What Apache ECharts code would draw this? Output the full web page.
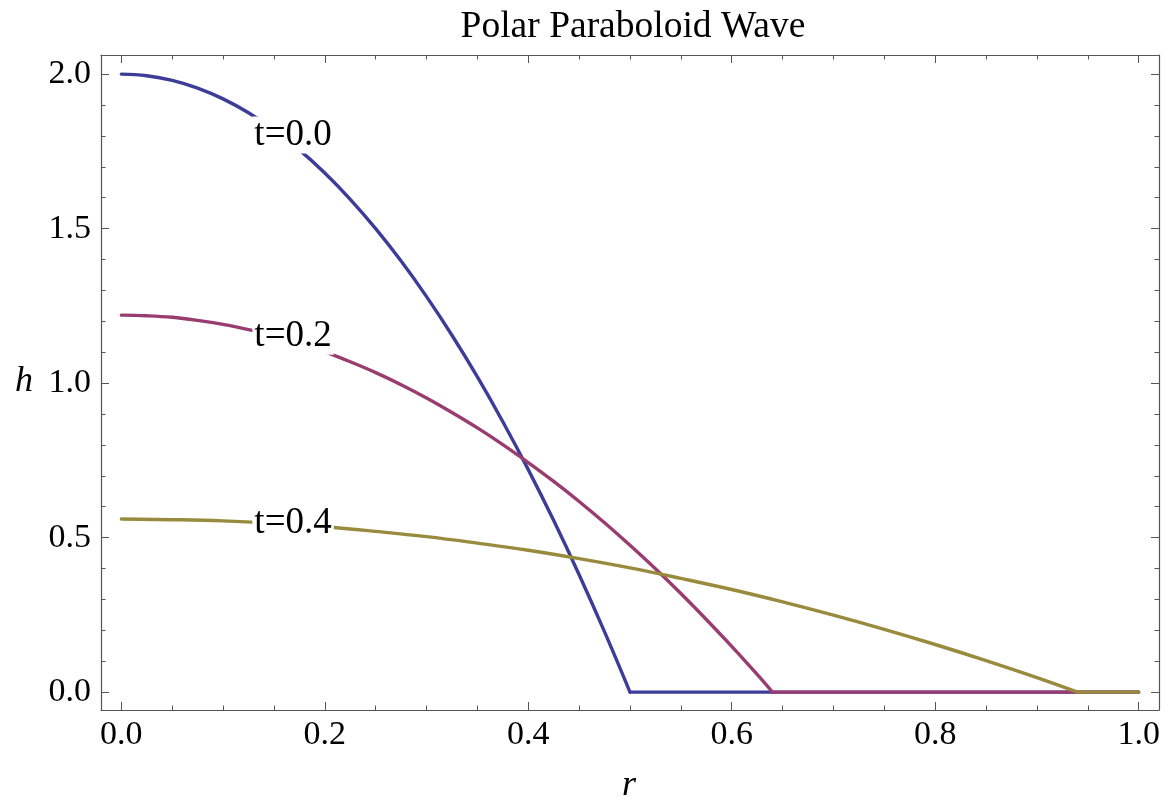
<!DOCTYPE html>
<html>
<head>
<meta charset="utf-8">
<title>Polar Paraboloid Wave</title>
<script src="https://cdn.jsdelivr.net/npm/echarts@6/dist/echarts.min.js"></script>
<style>
  html, body { margin: 0; padding: 0; background: #fff; }
  #chart { width: 1166px; height: 798px; }
</style>
</head>
<body>
<div id="chart"></div>
<script>
// Radial profile h(r) of the paraboloid wave at three times.
// Each profile is a smooth cap that ends at the front, followed by a flat run at h = 0.
const rT0 = [0, 0.025, 0.05, 0.075, 0.1, 0.125, 0.15, 0.175, 0.2, 0.225, 0.25, 0.275, 0.3, 0.325, 0.35, 0.375, 0.4, 0.425, 0.45, 0.475, 0.5];
const hT0 = [2.0, 1.995, 1.98, 1.955, 1.92, 1.875, 1.82, 1.755, 1.68, 1.595, 1.5, 1.395, 1.28, 1.155, 1.02, 0.875, 0.72, 0.555, 0.38, 0.195, 0];
const rFlatT0 = [0.5, 1.0];
const hFlatT0 = [0, 0];

const rT2 = [0, 0.025, 0.05, 0.075, 0.1, 0.125, 0.15, 0.175, 0.2, 0.225, 0.25, 0.275, 0.3, 0.325, 0.35, 0.375, 0.4, 0.425, 0.45, 0.475, 0.5, 0.525, 0.55, 0.575, 0.6, 0.625, 0.64];
const hT2 = [1.22, 1.218, 1.213, 1.203, 1.19, 1.173, 1.153, 1.129, 1.101, 1.069, 1.034, 0.995, 0.952, 0.905, 0.855, 0.801, 0.743, 0.682, 0.617, 0.548, 0.475, 0.399, 0.319, 0.235, 0.148, 0.057, 0];
const rFlatT2 = [0.64, 1.0];
const hFlatT2 = [0, 0];

const rT4 = [0, 0.05, 0.1, 0.15, 0.2, 0.25, 0.3, 0.35, 0.4, 0.45, 0.5, 0.55, 0.6, 0.65, 0.7, 0.75, 0.8, 0.85, 0.9, 0.94];
const hT4 = [0.56, 0.558, 0.554, 0.546, 0.535, 0.52, 0.503, 0.482, 0.459, 0.432, 0.402, 0.368, 0.332, 0.292, 0.249, 0.203, 0.154, 0.102, 0.047, 0];
const rFlatT4 = [0.94, 1.0];
const hFlatT4 = [0, 0];

// Curve labels and where they sit on the curves
const curveLabels = ['t=0.0', 't=0.2', 't=0.4'];
const labelR = [0.1688, 0.1688, 0.1688];
const labelH = [1.803, 1.152, 0.547];

// Frame ticks
const xMajorTicks = [0, 0.2, 0.4, 0.6, 0.8, 1.0];
const xMinorTicks = [0, 0.05, 0.1, 0.15, 0.2, 0.25, 0.3, 0.35, 0.4, 0.45, 0.5, 0.55, 0.6, 0.65, 0.7, 0.75, 0.8, 0.85, 0.9, 0.95, 1.0];
const yMajorTicks = [0, 0.5, 1.0, 1.5, 2.0];
const yMinorTicks = [0, 0.1, 0.2, 0.3, 0.4, 0.5, 0.6, 0.7, 0.8, 0.9, 1.0, 1.1, 1.2, 1.3, 1.4, 1.5, 1.6, 1.7, 1.8, 1.9, 2.0];

const colors = ['#3d3d99', '#993d71', '#998b3d'];
const FONT = '"Liberation Serif", "DejaVu Serif", serif';
const FRAME = '#555555';

const pairs = (xs, ys) => xs.map((x, i) => [x, ys[i]]);

const X_MIN = -0.02, X_MAX = 1.02;
const Y_MIN = -0.058, Y_MAX = 2.062;

function frameAxis(kind, position, major, showLine, showLabels) {
  const base = {
    type: 'value',
    position: position,
    min: kind === 'x' ? X_MIN : Y_MIN,
    max: kind === 'x' ? X_MAX : Y_MAX,
    splitLine: { show: false },
    axisLine: { show: showLine, onZero: false, lineStyle: { color: FRAME, width: 1.2 } },
    axisTick: {
      show: true,
      inside: true,
      length: major ? 8 : 4.5,
      customValues: major ? (kind === 'x' ? xMajorTicks : yMajorTicks) : (kind === 'x' ? xMinorTicks : yMinorTicks),
      lineStyle: { color: FRAME, width: 1 }
    },
    axisLabel: { show: false },
    z: 1
  };
  if (showLabels) {
    base.axisLabel = {
      show: true,
      customValues: kind === 'x' ? xMajorTicks : yMajorTicks,
      formatter: v => Number(v).toFixed(1),
      fontFamily: FONT,
      fontSize: 34,
      color: '#000',
      margin: kind === 'x' ? 8 : 10
    };
  }
  return base;
}

const chart = echarts.init(document.getElementById('chart'), null, { renderer: 'canvas' });

const profiles = [
  [rT0, hT0, rFlatT0, hFlatT0],
  [rT2, hT2, rFlatT2, hFlatT2],
  [rT4, hT4, rFlatT4, hFlatT4]
];

const lineSeries = [];
profiles.forEach((p, i) => {
  const style = { color: colors[i], width: 3.4, cap: 'round', join: 'round' };
  lineSeries.push({
    type: 'line',
    data: pairs(p[0], p[1]),
    showSymbol: false,
    symbol: 'none',
    smooth: 0.4,
    lineStyle: style,
    z: 2 + i,
    silent: true
  });
  lineSeries.push({
    type: 'line',
    data: pairs(p[2], p[3]),
    showSymbol: false,
    symbol: 'none',
    lineStyle: style,
    z: 2 + i,
    silent: true
  });
});

const labelSeries = {
  type: 'scatter',
  data: curveLabels.map((t, i) => ({ value: [labelR[i], labelH[i]], name: t })),
  symbolSize: 1,
  itemStyle: { color: '#fff', opacity: 1 },
  label: {
    show: true,
    position: 'inside',
    formatter: p => p.name,
    fontFamily: FONT,
    fontSize: 37,
    color: '#000',
    opacity: 1,
    backgroundColor: '#fff',
    padding: [0, 2]
  },
  z: 10,
  silent: true
};

chart.setOption({
  animation: false,
  backgroundColor: '#fff',
  title: {
    text: 'Polar Paraboloid Wave',
    left: 628,
    textAlign: 'center',
    top: 3,
    textStyle: { fontFamily: FONT, fontSize: 37.5, fontWeight: 'normal', color: '#000' }
  },
  grid: { left: 101, right: 7, top: 55, bottom: 88, containLabel: false },
  xAxis: [
    frameAxis('x', 'bottom', true, true, true),
    frameAxis('x', 'bottom', false, false, false),
    frameAxis('x', 'top', true, true, false),
    frameAxis('x', 'top', false, false, false)
  ],
  yAxis: [
    frameAxis('y', 'left', true, true, true),
    frameAxis('y', 'left', false, false, false),
    frameAxis('y', 'right', true, true, false),
    frameAxis('y', 'right', false, false, false)
  ],
  graphic: [
    {
      type: 'text',
      left: 622,
      top: 768,
      style: { text: 'r', font: 'italic 36px ' + FONT, fill: '#000' }
    },
    {
      type: 'text',
      left: 15,
      top: 364,
      style: { text: 'h', font: 'italic 36px ' + FONT, fill: '#000' }
    }
  ],
  series: [...lineSeries, labelSeries]
});
</script>
</body>
</html>
